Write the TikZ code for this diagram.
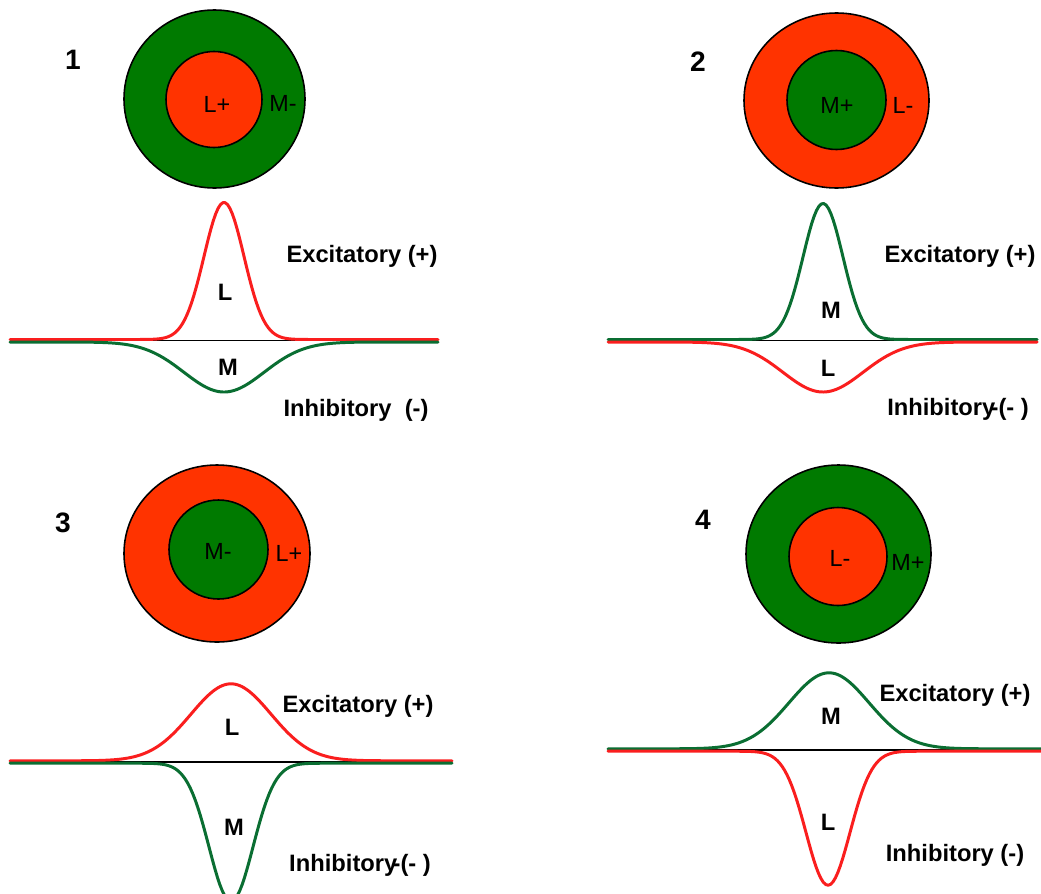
\documentclass[tikz,border=0pt]{standalone}
\usepackage{fontspec}
\setmainfont{Liberation Sans}
\usetikzlibrary{shapes.geometric}
\definecolor{fRed}{RGB}{255,51,0}
\definecolor{fGreen}{RGB}{0,122,0}
\definecolor{cRed}{RGB}{250,30,30}
\definecolor{cGreen}{RGB}{10,110,50}
\tikzset{
  surround/.style={ellipse, draw=black, line width=0.9pt, inner sep=0pt},
  centre/.style={circle, draw=black, line width=0.9pt, inner sep=0pt},
  ringlbl/.style={font=\fontsize{13.3}{15}\selectfont, inner sep=0pt},
  num/.style={font=\fontsize{16}{18}\selectfont\bfseries, inner sep=0pt},
  resp/.style={font=\fontsize{13.5}{16}\selectfont\bfseries, inner sep=0pt},
  axis/.style={draw=black, line width=0.7pt},
  curve/.style={line width=1.7pt, line join=round, line cap=round},
}
\newcommand{\Gauss}[7][]{% {from}{to}{base}{centre}{amp}{sigma}
  \draw[curve,#1] plot[domain=#2:#3, samples=180]
    (\x, {#4 - #6*exp(-((\x-#5)/#7)^2/2)});}

\begin{document}
\begin{tikzpicture}[x=0.2mm, y=-0.2mm]
  \useasboundingbox (0,0) rectangle (1041,893);
  % 1: L+ centre, M- surround
  \node[num] (n1) at (73,60) {1};
  \node[surround, fill=fGreen, minimum width=36.2mm, minimum height=35.6mm] (s1) at (214.5,99) {};
  \node[centre, fill=fRed, minimum size=19.2mm] (c1) at (214,99.5) {};
  \node[ringlbl] (c1l) at (217,104) {L+};
  \node[ringlbl] (s1l) at (283,103) {M-};
  \coordinate (b1l) at (10,340.7);
  \coordinate (b1r) at (438,340.7);
  \draw[axis] (b1l) -- (b1r);
  \Gauss[cRed]{10}{438}{339.5}{224}{137}{20}
  \Gauss[cGreen]{10}{438}{342}{224}{-50}{40}
  \node[resp] (e1) at (362,256) {Excitatory (+)};
  \node[resp] (p1) at (225,292) {L};
  \node[resp] (q1) at (228,367) {M};
  \node[resp] (i1) at (356,410) {Inhibitory\ \ (-)};

  % 2: M+ centre, L- surround
  \node[num] (n2) at (698,62) {2};
  \node[surround, fill=fRed, minimum width=37mm, minimum height=35mm] (s2) at (836.5,100.5) {};
  \node[centre, fill=fGreen, minimum size=19.8mm] (c2) at (836.5,100) {};
  \node[ringlbl] (c2l) at (837,105) {M+};
  \node[ringlbl] (s2l) at (903,105) {L-};
  \coordinate (b2l) at (608,340.7);
  \coordinate (b2r) at (1037,340.7);
  \draw[axis] (b2l) -- (b2r);
  \Gauss[cGreen]{608}{1037}{339.5}{823}{136}{20}
  \Gauss[cRed]{608}{1037}{342}{823}{-50}{40}
  \node[resp] (e2) at (960,256) {Excitatory (+)};
  \node[resp] (p2) at (831,310) {M};
  \node[resp] (q2) at (828,368) {L};
  \node[resp] (i2) at (958,409) {Inhibitory\kern-.2em-(-\ )};

  % 3: M- centre, L+ surround
  \node[num] (n3) at (63,523) {3};
  \node[surround, fill=fRed, minimum width=37.2mm, minimum height=35.4mm] (s3) at (217,553.5) {};
  \node[centre, fill=fGreen, minimum size=19.8mm] (c3) at (218.5,549.5) {};
  \node[ringlbl] (c3l) at (218,551) {M-};
  \node[ringlbl] (s3l) at (289,553) {L+};
  \coordinate (b3l) at (10,762);
  \coordinate (b3r) at (452,762);
  \draw[axis] (b3l) -- (b3r);
  \Gauss[cRed]{10}{452}{760.8}{231}{77}{40}
  \Gauss[cGreen]{10}{452}{763.2}{231}{-138}{22}
  \node[resp] (e3) at (358,706) {Excitatory (+)};
  \node[resp] (p3) at (232,727) {L};
  \node[resp] (q3) at (234,827) {M};
  \node[resp] (i3) at (360,865) {Inhibitory\kern-.2em-(-\ )};

  % 4: L- centre, M+ surround
  \node[num] (n4) at (703,520) {4};
  \node[surround, fill=fGreen, minimum width=37mm, minimum height=35.6mm] (s4) at (838.5,554) {};
  \node[centre, fill=fRed, minimum size=19.6mm] (c4) at (838,556.5) {};
  \node[ringlbl] (c4l) at (840,558) {L-};
  \node[ringlbl] (s4l) at (908,562) {M+};
  \coordinate (b4l) at (608,750);
  \coordinate (b4r) at (1041,750);
  \draw[axis] (b4l) -- (b4r);
  \Gauss[cGreen]{608}{1041}{748.8}{829}{76}{40}
  \Gauss[cRed]{608}{1041}{751.2}{828}{-134}{22}
  \node[resp] (e4) at (955,695) {Excitatory (+)};
  \node[resp] (p4) at (831,716) {M};
  \node[resp] (q4) at (828,822) {L};
  \node[resp] (i4) at (955,855) {Inhibitory (-)};
\end{tikzpicture}
\end{document}
